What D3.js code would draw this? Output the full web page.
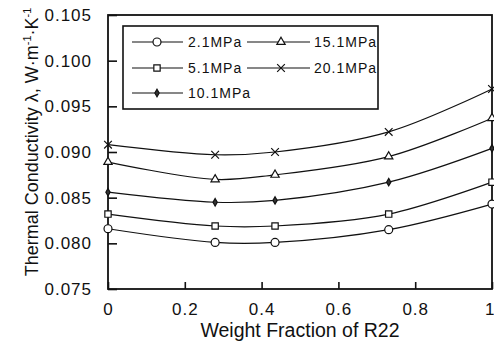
<!DOCTYPE html>
<html>
<head>
<meta charset="utf-8">
<script src="https://cdn.jsdelivr.net/npm/d3@7"></script>
<style>
  body { margin: 0; background: #fff; }
  svg { display: block; }
  text { font-family: "Liberation Sans", Arial, Helvetica, sans-serif; fill: #111; }
</style>
</head>
<body>
<div id="chart_container"></div>
<script>
// weight fraction of R22 where measurements were taken
let fractions = [0, 0.279, 0.435, 0.731, 1.0]

let pressures = ["2.1MPa", "5.1MPa", "10.1MPa", "15.1MPa", "20.1MPa"]

// thermal conductivity, W/(m K), one list per pressure
let k_2_1  = [0.0816, 0.0801, 0.0801, 0.0815, 0.0843]
let k_5_1  = [0.0832, 0.0819, 0.0819, 0.0832, 0.0867]
let k_10_1 = [0.0856, 0.0845, 0.0847, 0.0867, 0.0904]
let k_15_1 = [0.0889, 0.0870, 0.0875, 0.0895, 0.0937]
let k_20_1 = [0.0908, 0.0897, 0.0900, 0.0922, 0.0969]

let xTicks = [0, 0.2, 0.4, 0.6, 0.8, 1]
let yTicks = [0.075, 0.080, 0.085, 0.090, 0.095, 0.100, 0.105]

let series = [k_2_1, k_5_1, k_10_1, k_15_1, k_20_1]
let symbols = ["circle", "square", "diamond", "triangle", "cross"]

let width = 494, height = 344
let svg = d3.select("#chart_container").append("svg")
    .attr("width", width).attr("height", height)

let x = d3.scaleLinear().domain([0, 1]).range([108, 492])
let y = d3.scaleLinear().domain([0.075, 0.105]).range([289, 15])

// frame
svg.append("rect")
    .attr("x", x(0)).attr("y", y(0.105))
    .attr("width", x(1) - x(0)).attr("height", y(0.075) - y(0.105))
    .attr("fill", "none").attr("stroke", "#111").attr("stroke-width", 1.8)

// y axis, ticks pointing inward
let yAxis = svg.append("g")
    .attr("transform", "translate(" + x(0) + ",0)")
    .call(d3.axisRight(y).tickValues(yTicks).tickSize(9).tickFormat(d3.format(".3f")))
yAxis.select(".domain").remove()
yAxis.selectAll("line").attr("stroke", "#111").attr("stroke-width", 1.6)
yAxis.selectAll("text")
    .attr("x", -16).attr("text-anchor", "end")
    .style("font-size", "17px").style("letter-spacing", "1px")

// x axis, ticks pointing inward
let xAxis = svg.append("g")
    .attr("transform", "translate(0," + y(0.075) + ")")
    .call(d3.axisTop(x).tickValues(xTicks).tickSize(7).tickFormat(d => d == 0 || d == 1 ? d : d3.format(".1f")(d)))
xAxis.select(".domain").remove()
xAxis.selectAll("line").attr("stroke", "#111").attr("stroke-width", 1.6)
xAxis.selectAll("text")
    .attr("y", 26).attr("dy", "0")
    .style("font-size", "17px").style("letter-spacing", "1px")
// last label sits at the very edge of the page
xAxis.selectAll("text").filter(d => d == 1)
    .attr("text-anchor", "end").attr("x", 2).style("letter-spacing", "0px")

// axis titles
svg.append("text")
    .attr("x", 300).attr("y", 337)
    .attr("text-anchor", "middle")
    .style("font-size", "19.5px")
    .text("Weight Fraction of R22")

let ytitle = svg.append("text")
    .attr("transform", "translate(38,142) rotate(-90)")
    .attr("text-anchor", "middle")
    .style("font-size", "18px")
ytitle.append("tspan").text("Thermal Conductivity λ, W·m")
ytitle.append("tspan").attr("dy", -7).style("font-size", "11px").text("-1")
ytitle.append("tspan").attr("dy", 7).text("·K")
ytitle.append("tspan").attr("dy", -7).style("font-size", "11px").text("-1")

function symbolPath(kind) {
    if (kind == "circle") return d3.symbol(d3.symbolCircle, 50)()
    if (kind == "square") return d3.symbol(d3.symbolSquare, 40)()
    if (kind == "diamond") return d3.symbol(d3.symbolDiamond, 16)()
    if (kind == "triangle") return d3.symbol(d3.symbolTriangle, 30)()
    return d3.symbol(d3.symbolX, 40)()
}

function drawMarker(g, kind, cx, cy) {
    let m = g.append("path")
        .attr("d", symbolPath(kind))
        .attr("transform", "translate(" + cx + "," + cy + ")")
        .attr("stroke", "#111").attr("stroke-width", 1.2)
    if (kind == "diamond") m.attr("fill", "#333")
    else m.attr("fill", kind == "cross" ? "none" : "#fff")
}

let line = d3.line()
    .x((d, i) => x(fractions[i]))
    .y(d => y(d))
    .curve(d3.curveCatmullRom.alpha(0.5))

let plot = svg.append("g")
series.forEach(function(vals, s) {
    plot.append("path")
        .attr("d", line(vals))
        .attr("fill", "none").attr("stroke", "#111").attr("stroke-width", 1.2)
    vals.forEach(function(v, i) {
        drawMarker(plot, symbols[s], x(fractions[i]), y(v))
    })
})

// legend
let legend = svg.append("g")
legend.append("rect")
    .attr("x", 123).attr("y", 26).attr("width", 255).attr("height", 83)
    .attr("fill", "#fff").attr("stroke", "#111").attr("stroke-width", 1.6)

let legendPos = [[0, 0], [0, 1], [0, 2], [1, 0], [1, 1]]
let colX = [[132, 183, 157, 188], [247, 310, 281, 314]]
let rowY = [42, 68, 93]
pressures.forEach(function(p, i) {
    let c = colX[legendPos[i][0]], ry = rowY[legendPos[i][1]]
    legend.append("line")
        .attr("x1", c[0]).attr("x2", c[1]).attr("y1", ry).attr("y2", ry)
        .attr("stroke", "#111").attr("stroke-width", 1.2)
    drawMarker(legend, symbols[i], c[2], ry)
    legend.append("text")
        .attr("x", c[3]).attr("y", ry + 5)
        .style("font-size", "14px").style("letter-spacing", "1px")
        .text(p)
})
</script>
</body>
</html>
